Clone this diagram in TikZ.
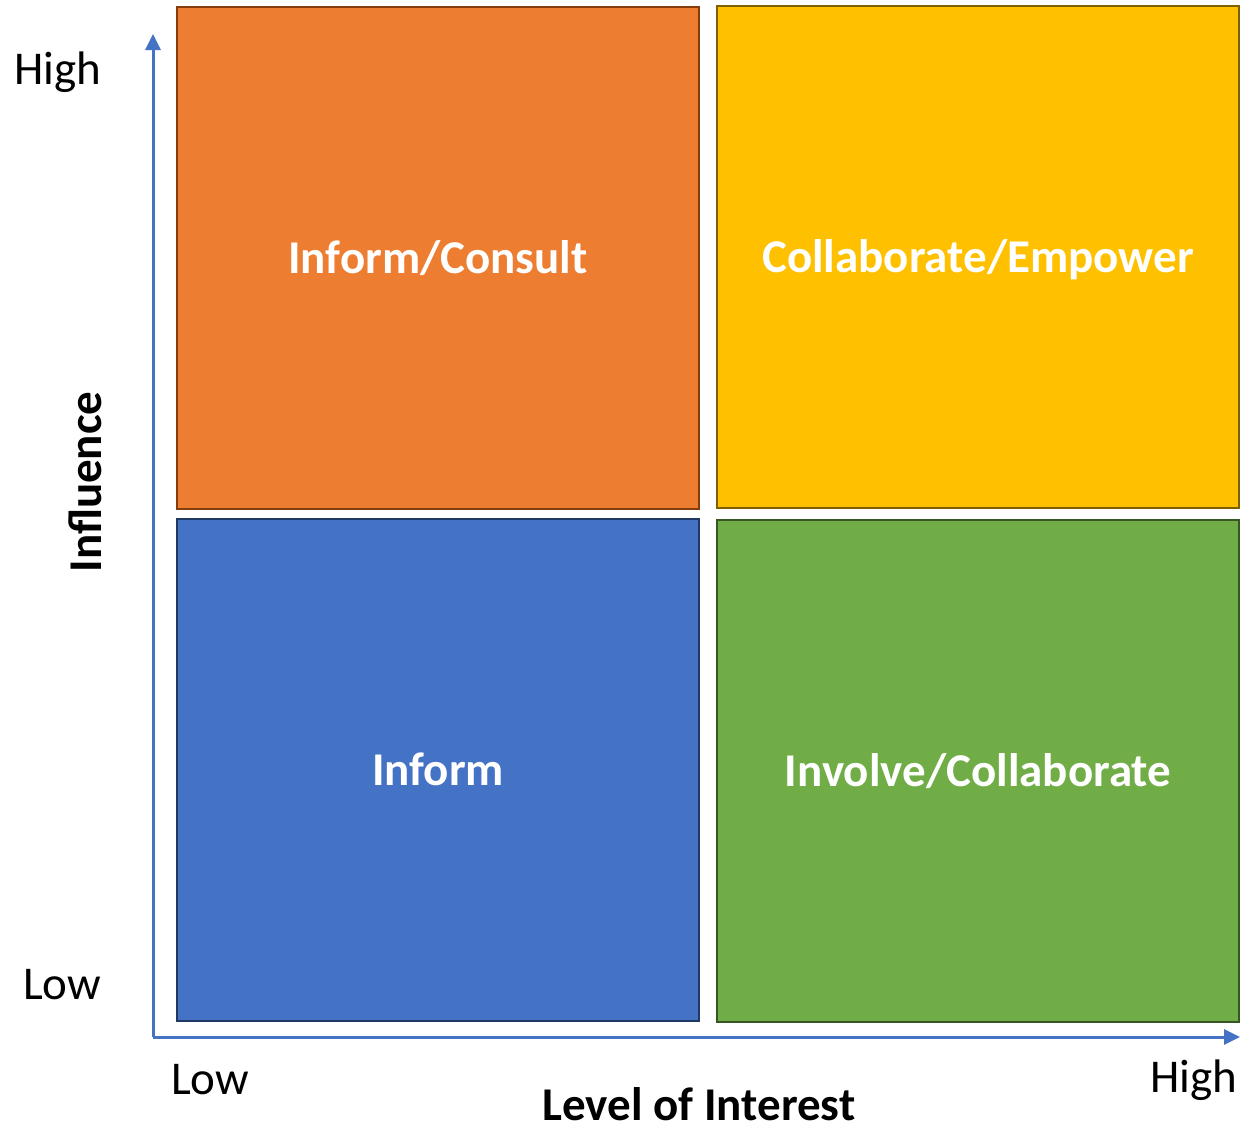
\documentclass[tikz,border=0pt]{standalone}
\usepackage{fontspec}
\setmainfont{Carlito}
\usetikzlibrary{arrows.meta}
\definecolor{qorange}{HTML}{ED7D31}
\definecolor{qorangeb}{HTML}{843C0C}
\definecolor{qyellow}{HTML}{FFC000}
\definecolor{qyellowb}{HTML}{7F6000}
\definecolor{qblue}{HTML}{4472C4}
\definecolor{qblueb}{HTML}{1F3864}
\definecolor{qgreen}{HTML}{70AD47}
\definecolor{qgreenb}{HTML}{375623}
\begin{document}
\begin{tikzpicture}[x=1pt,y=-1pt,
  quad/.style={rectangle, line width=2.5pt, minimum width=522pt, minimum height=502pt,
    inner sep=0pt, text=white, text height=36pt, text depth=6pt,
    font=\fontsize{47}{56}\selectfont\bfseries},
  axis/.style={draw=qblue, line width=3pt, -{Triangle[length=16pt,width=15pt]}},
  ticklbl/.style={font=\fontsize{47}{56}\selectfont, inner sep=0pt},
  axislbl/.style={font=\fontsize{47}{56}\selectfont\bfseries, inner sep=0pt}]
\useasboundingbox (0,0) rectangle (1253,1128);

% quadrants
\node[quad, fill=qorange, draw=qorangeb] (ic) at (438,258) {Inform/Consult};
\node[quad, fill=qyellow, draw=qyellowb] (ce) at (978,257) {Collaborate/Empower};
\node[quad, fill=qblue, draw=qblueb] (inf) at (438,770) {Inform};
\node[quad, fill=qgreen, draw=qgreenb] (ivc) at (978,771) {Involve/Collaborate};

% axes
\coordinate (o) at (153,1037);
\coordinate (ytop) at (153,34);
\coordinate (xend) at (1240,1037);
\draw[axis] (o) -- (ytop);
\draw[axis] (o) -- (xend);

% axis labels
\node[ticklbl] (yhigh) at (58,72) {High};
\node[ticklbl] (ylow) at (62,985) {Low};
\node[ticklbl] (xlow) at (210,1080) {Low};
\node[ticklbl] (xhigh) at (1194,1080) {High};
\node[axislbl, rotate=90] (ylbl) at (85,482) {Influence};
\node[axislbl, anchor=base] (xlbl) at (699,1120) {Level of Interest};
\end{tikzpicture}
\end{document}
